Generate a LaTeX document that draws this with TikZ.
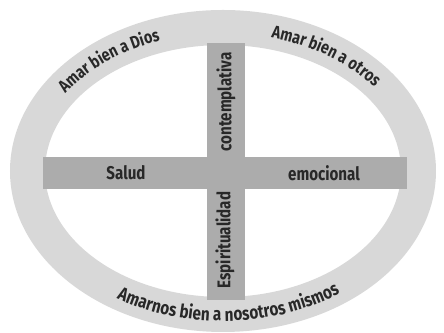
\documentclass[tikz,border=0pt]{standalone}
\usepackage{fontspec}
\usepackage{tikz}
\usetikzlibrary{positioning,decorations.text}
\newfontfamily\barfont[FakeStretch=0.82]{Fira Sans}
\definecolor{ringgray}{RGB}{216,216,216}
\definecolor{bargray}{RGB}{172,172,172}
\definecolor{inkgray}{RGB}{40,40,40}

\begin{document}
\begin{tikzpicture}[
    x=0.02cm, y=0.02cm,
    ringband/.style={fill=ringgray, even odd rule},
    crossbar/.style={
        rectangle, fill=bargray,
        inner sep=0pt, outer sep=0pt
    },
    barlabel/.style={
        font=\barfont\bfseries\fontsize{10.5}{12}\selectfont,
        text=inkgray, inner sep=0pt
    },
    ringtext/.style={
        decorate,
        decoration={text along path, text align=center,
            text color=inkgray}
    }
]
\useasboundingbox (-223,-162) rectangle (221,171);

% Outer ring
\fill[ringband] (0,0) ellipse[x radius=213, y radius=161]
                (0,0) ellipse[x radius=178, y radius=126];

% Cross
\node[crossbar, minimum width=7.28cm, minimum height=0.64cm] (hbar) at (2,-2) {};
\node[crossbar, minimum width=0.76cm, minimum height=5.14cm] (vbar) at (3,-0.5) {};

% Bar labels
\node[barlabel] (salud) at (-97,-2) {Salud};
\node[barlabel] (emoc) at (101,-2) {emocional};
\node[barlabel, rotate=90] (contem) at (3,69) {contemplativa};
\node[barlabel, rotate=90] (espir) at (2,-69) {Espiritualidad};

% Texts along the ring
\path[ringtext, decoration={text={|\barfont\bfseries\fontsize{10}{12}\selectfont|Amar bien a Dios}}]
    (160:190 and 138) arc[start angle=160, end angle=98, x radius=190, y radius=138];
\path[ringtext, decoration={text={|\barfont\bfseries\fontsize{10}{12}\selectfont|Amar bien a otros}}]
    (86:190 and 138) arc[start angle=86, end angle=24, x radius=190, y radius=138];
\path[ringtext, decoration={text={|\barfont\bfseries\fontsize{10.6}{12}\selectfont|Amarnos bien a nosotros mismos}}]
    (224:202 and 150) arc[start angle=224, end angle=320, x radius=202, y radius=150];

\end{tikzpicture}
\end{document}
